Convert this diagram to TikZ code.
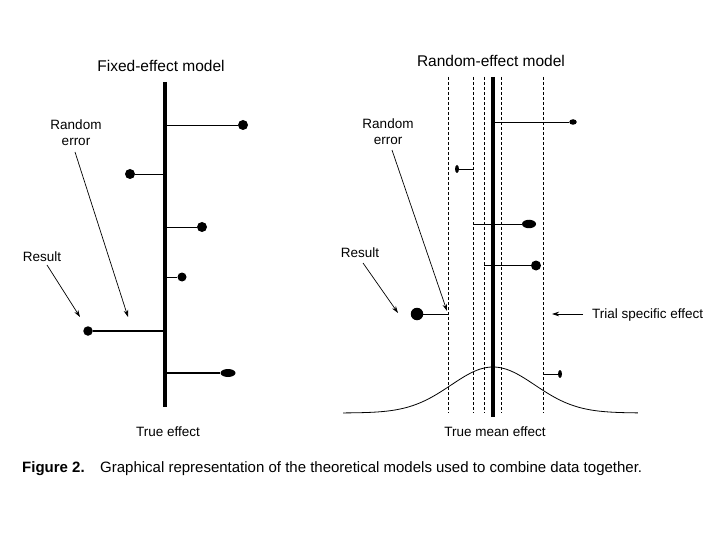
\documentclass[tikz,border=0pt]{standalone}
\usepackage{fontspec}
\setmainfont{Liberation Sans}
\usetikzlibrary{shapes.geometric,arrows.meta}
\begin{document}
\begin{tikzpicture}[x=1pt,y=-1pt,
  dot/.style={ellipse,fill=black,draw=none,inner sep=0pt},
  stem/.style={line width=0.9pt},
  thickstem/.style={line width=1.9pt},
  axisline/.style={line width=3.4pt},
  dashline/.style={line width=0.6pt,dash pattern=on 3pt off 2pt},
  pointer/.style={line width=0.7pt,-{Stealth[length=7pt,width=4.5pt]}},
  title/.style={font=\fontsize{15.5}{18}\selectfont,inner sep=0pt},
  lab/.style={font=\fontsize{13.5}{16}\selectfont,align=center,inner sep=0pt},
  capt/.style={font=\fontsize{15}{18}\selectfont,inner sep=0pt,anchor=base west}]
\fill[white] (0,0) rectangle (720,540);
\useasboundingbox (0,0) rectangle (720,540);

% ---------------- Fixed-effect model ----------------
\node[title] (ftitle) at (161,65.5) {Fixed-effect model};
\coordinate (Ltop) at (165,82);
\coordinate (Lbot) at (165,407);
\draw[axisline] (Ltop) -- (Lbot);

\node[dot,minimum width=10pt,minimum height=10pt] (L1) at (243,125) {};
\coordinate (La1) at (165,125);
\draw[stem] (La1) -- (L1);

\node[dot,minimum width=10pt,minimum height=10pt] (L2) at (130,174) {};
\coordinate (La2) at (165,174);
\draw[stem] (La2) -- (L2);

\node[dot,minimum width=10pt,minimum height=10pt] (L3) at (202,227) {};
\coordinate (La3) at (165,227);
\draw[stem] (La3) -- (L3);

\node[dot,minimum width=9pt,minimum height=9pt] (L4) at (182,277) {};
\coordinate (La4) at (165,277);
\draw[stem] (La4) -- (L4);

\node[dot,minimum width=9.5pt,minimum height=9.5pt] (L5) at (88,331) {};
\coordinate (La5) at (165,331);
\draw[thickstem] (La5) -- (L5);

\node[dot,minimum width=15pt,minimum height=8pt] (L6) at (228,373) {};
\coordinate (La6) at (165,373);
\draw[thickstem] (La6) -- (L6);

\node[lab,anchor=north] (lre) at (76,120) {Random\\error};
\coordinate (lreS) at (75,152);
\coordinate (lreE) at (128,317);
\draw[pointer] (lreS) -- (lreE);

\node[lab] (lres) at (42,256.5) {Result};
\coordinate (lresS) at (47,265);
\coordinate (lresE) at (80,317);
\draw[pointer] (lresS) -- (lresE);

\node[lab] (ltrue) at (168,431.5) {True effect};

% ---------------- Random-effect model ----------------
\node[title] (rtitle) at (491,60.5) {Random-effect model};

\foreach \xx/\nm in {448/a,473/b,484/c,501/d,543/e}{
  \coordinate (D\nm top) at (\xx,77);
  \coordinate (D\nm bot) at (\xx,413);
  \draw[dashline] (D\nm top) -- (D\nm bot);
}

\draw[line width=0.8pt] plot[domain=-3.57:3.45,samples=120,smooth]
  ({493+42*\x},{413-46*exp(-\x*\x/2)});

\coordinate (Rtop) at (493,77);
\coordinate (Rbot) at (493,417);
\draw[axisline] (Rtop) -- (Rbot);

\node[dot,minimum width=7.5pt,minimum height=5.5pt] (R1) at (573,122) {};
\coordinate (Ra1) at (493,122);
\draw[stem] (Ra1) -- (R1);

\node[dot,minimum width=4pt,minimum height=8pt] (R2) at (457,169) {};
\coordinate (Ra2) at (473,169);
\draw[stem] (Ra2) -- (R2);

\node[dot,minimum width=14pt,minimum height=8.5pt] (R3) at (529,224) {};
\coordinate (Ra3) at (473,224);
\draw[stem] (Ra3) -- (R3);

\node[dot,minimum width=10pt,minimum height=10pt] (R4) at (536,265.5) {};
\coordinate (Ra4) at (484,265.5);
\draw[thickstem] (Ra4) -- (R4);

\node[dot,minimum width=12.5pt,minimum height=12.5pt] (R5) at (417,314) {};
\coordinate (Ra5) at (448,314);
\draw[stem] (Ra5) -- (R5);

\node[dot,minimum width=4pt,minimum height=8pt] (R6) at (560,374) {};
\coordinate (Ra6) at (543,374);
\draw[stem] (Ra6) -- (R6);

\node[lab,anchor=north] (rre) at (388,118.5) {Random\\error};
\coordinate (rreS) at (392,150);
\coordinate (rreE) at (447,311);
\draw[pointer] (rreS) -- (rreE);

\node[lab] (rres) at (360,252.5) {Result};
\coordinate (rresS) at (363,263);
\coordinate (rresE) at (398,313);
\draw[pointer] (rresS) -- (rresE);

\node[lab,anchor=base west] (trial) at (592,318) {Trial specific effect};
\coordinate (trialS) at (583,314);
\coordinate (trialE) at (552,314);
\draw[pointer] (trialS) -- (trialE);

\node[lab] (rtrue) at (495,431.5) {True mean effect};

% ---------------- Caption ----------------
\node[capt,font=\fontsize{15}{18}\selectfont\bfseries] (fig) at (22,472) {Figure 2.};
\node[capt] (cap) at (100,472) {Graphical representation of the theoretical models used to combine data together.};
\end{tikzpicture}
\end{document}
